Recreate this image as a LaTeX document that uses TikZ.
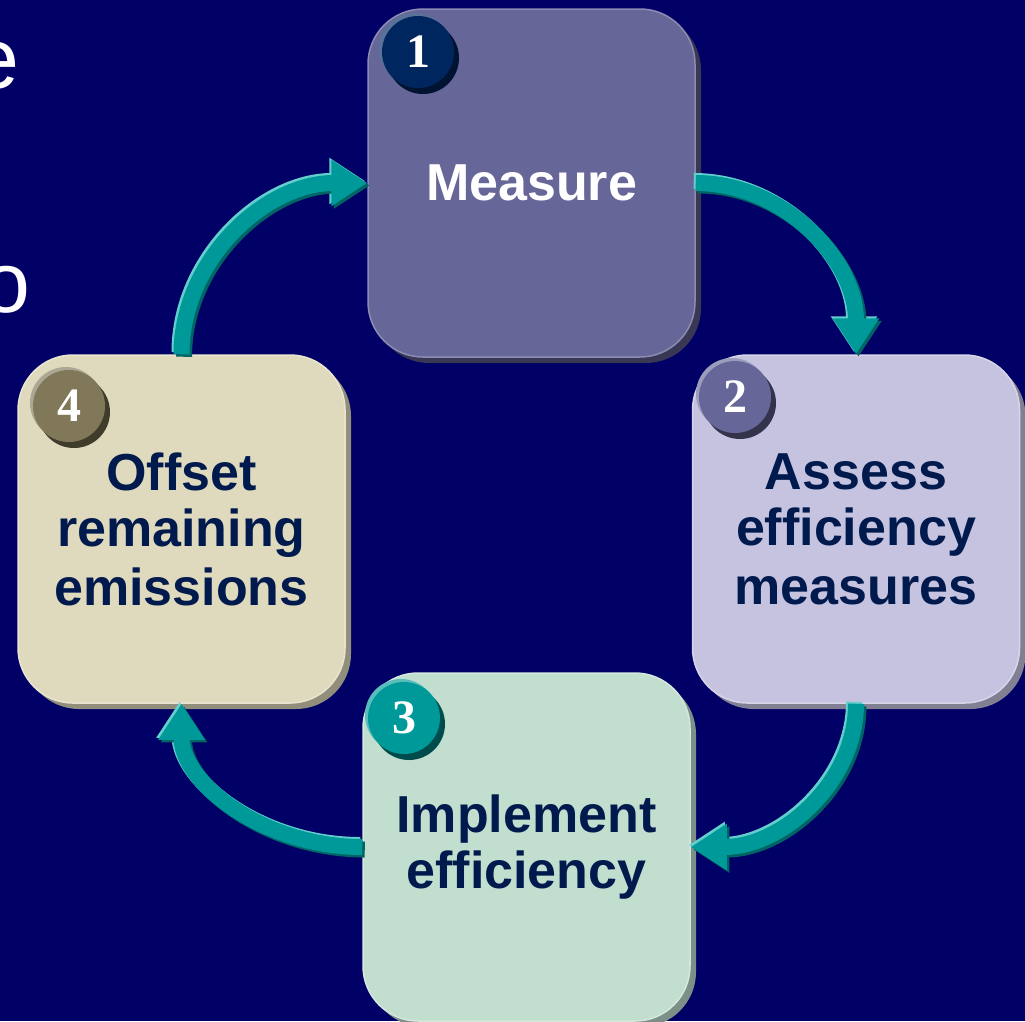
\documentclass[tikz,border=0pt]{standalone}
\usepackage{fontspec}
\setmainfont{Liberation Sans}
\newfontfamily\numfont{Liberation Serif}
\usetikzlibrary{arrows.meta,calc}
\definecolor{bg}{RGB}{0,0,102}
\definecolor{boxA}{RGB}{102,102,153}
\definecolor{boxB}{RGB}{198,195,224}
\definecolor{boxC}{RGB}{193,222,207}
\definecolor{boxD}{RGB}{223,218,190}
\definecolor{numA}{RGB}{0,38,96}
\definecolor{numB}{RGB}{102,102,153}
\definecolor{numC}{RGB}{0,153,153}
\definecolor{numD}{RGB}{128,120,88}
\definecolor{arrmain}{RGB}{0,153,153}
\definecolor{arrlight}{RGB}{100,205,205}
\definecolor{arrdark}{RGB}{0,100,100}
\definecolor{txtdark}{RGB}{0,26,77}
\newcommand{\myarrows}[1]{%
  \draw[arr, draw=#1] (m.east) .. controls ($(m.east)!0.55!(m.east -| a.north)$) and ($(a.north)!0.55!(m.east -| a.north)$) .. (a.north);
  \draw[arr, draw=#1] (a.south) .. controls ($(a.south)!0.55!(a.south |- i.east)$) and ($(i.east)!0.55!(a.south |- i.east)$) .. (i.east);
  \draw[arr, draw=#1] (i.west) .. controls ($(i.west)!0.55!(i.west -| o.south)$) and ($(o.south)!0.55!(i.west -| o.south)$) .. (o.south);
  \draw[arr, draw=#1] (o.north) .. controls ($(o.north)!0.55!(o.north |- m.west)$) and ($(m.west)!0.55!(o.north |- m.west)$) .. (m.west);
}
\begin{document}
\begin{tikzpicture}[x=1pt,y=-1pt,
  box/.style={rounded corners=55pt, minimum width=327pt, minimum height=348pt,
    inner sep=0pt, align=center, line width=1.5pt,
    font=\bfseries\fontsize{52}{59}\selectfont},
  boxshadow/.style={rounded corners=55pt, minimum width=327pt, minimum height=348pt,
    inner sep=0pt, transform canvas={shift={(3pt,-3pt)}}},
  numc/.style={circle, minimum size=72pt, inner sep=0pt, text=white,
    font=\numfont\bfseries\fontsize{48}{48}\selectfont},
  numshadow/.style={circle, minimum size=72pt, inner sep=0pt,
    transform canvas={shift={(2.5pt,-3pt)}}},
  numlight/.style={circle, minimum size=72pt, inner sep=0pt,
    transform canvas={shift={(-1.5pt,1.5pt)}}},
  arr/.style={line width=16pt, -{Triangle[length=36pt,width=44pt]}},
  side/.style={text=white, inner sep=0pt, anchor=base east,
    font=\fontsize{86}{86}\selectfont}
]
\clip (0,0) rectangle (1025,1021);
\fill[bg] (0,0) rectangle (1025,1021);

% partial side text
\node[side] (se) at (20,88) {e};
\node[side] (so) at (31,312) {o};

% box shadows
\node[boxshadow, fill=black!45!boxA] (ms) at (531.5,183) {};
\node[boxshadow, fill=black!35!boxB] (as) at (856,529) {};
\node[boxshadow, fill=black!35!boxC] (is) at (526.5,847) {};
\node[boxshadow, fill=black!35!boxD] (os) at (181.5,529) {};

% boxes
\node[box, fill=boxA, draw=white!25!boxA, text=white] (m) at (531.5,183) {\raisebox{-4pt}{Measure}};
\node[box, fill=boxB, draw=white!30!boxB, text=txtdark] (a) at (856,529) {\raisebox{-3pt}{Assess}\\efficiency\\measures};
\node[box, fill=boxC, draw=white!30!boxC, text=txtdark] (i) at (526.5,847) {\raisebox{-3pt}{Implement}\\efficiency};
\node[box, fill=boxD, draw=white!30!boxD, text=txtdark] (o) at (181.5,529) {\raisebox{-3pt}{Offset}\\remaining\\emissions};

% number circles
\node[numlight, fill=white!35!numA] (n1l) at (418,52) {};
\node[numshadow, fill=black!50!numA] (n1s) at (418,52) {};
\node[numc, fill=numA] (n1) at (418,52) {1};
\node[numlight, fill=white!35!numB] (n2l) at (735,397) {};
\node[numshadow, fill=black!50!numB] (n2s) at (735,397) {};
\node[numc, fill=numB] (n2) at (735,397) {2};
\node[numlight, fill=white!35!numC] (n3l) at (404,718) {};
\node[numshadow, fill=black!50!numC] (n3s) at (404,718) {};
\node[numc, fill=numC] (n3) at (404,718) {3};
\node[numlight, fill=white!35!numD] (n4l) at (69,406) {};
\node[numshadow, fill=black!50!numD] (n4s) at (69,406) {};
\node[numc, fill=numD] (n4) at (69,406) {4};

% arrows: highlight, shadow, main
\begin{scope}[transform canvas={shift={(-2pt,2pt)}}]
\myarrows{arrlight}
\end{scope}
\begin{scope}[transform canvas={shift={(2.5pt,-2.5pt)}}]
\myarrows{arrdark}
\end{scope}
\myarrows{arrmain}
\end{tikzpicture}
\end{document}
